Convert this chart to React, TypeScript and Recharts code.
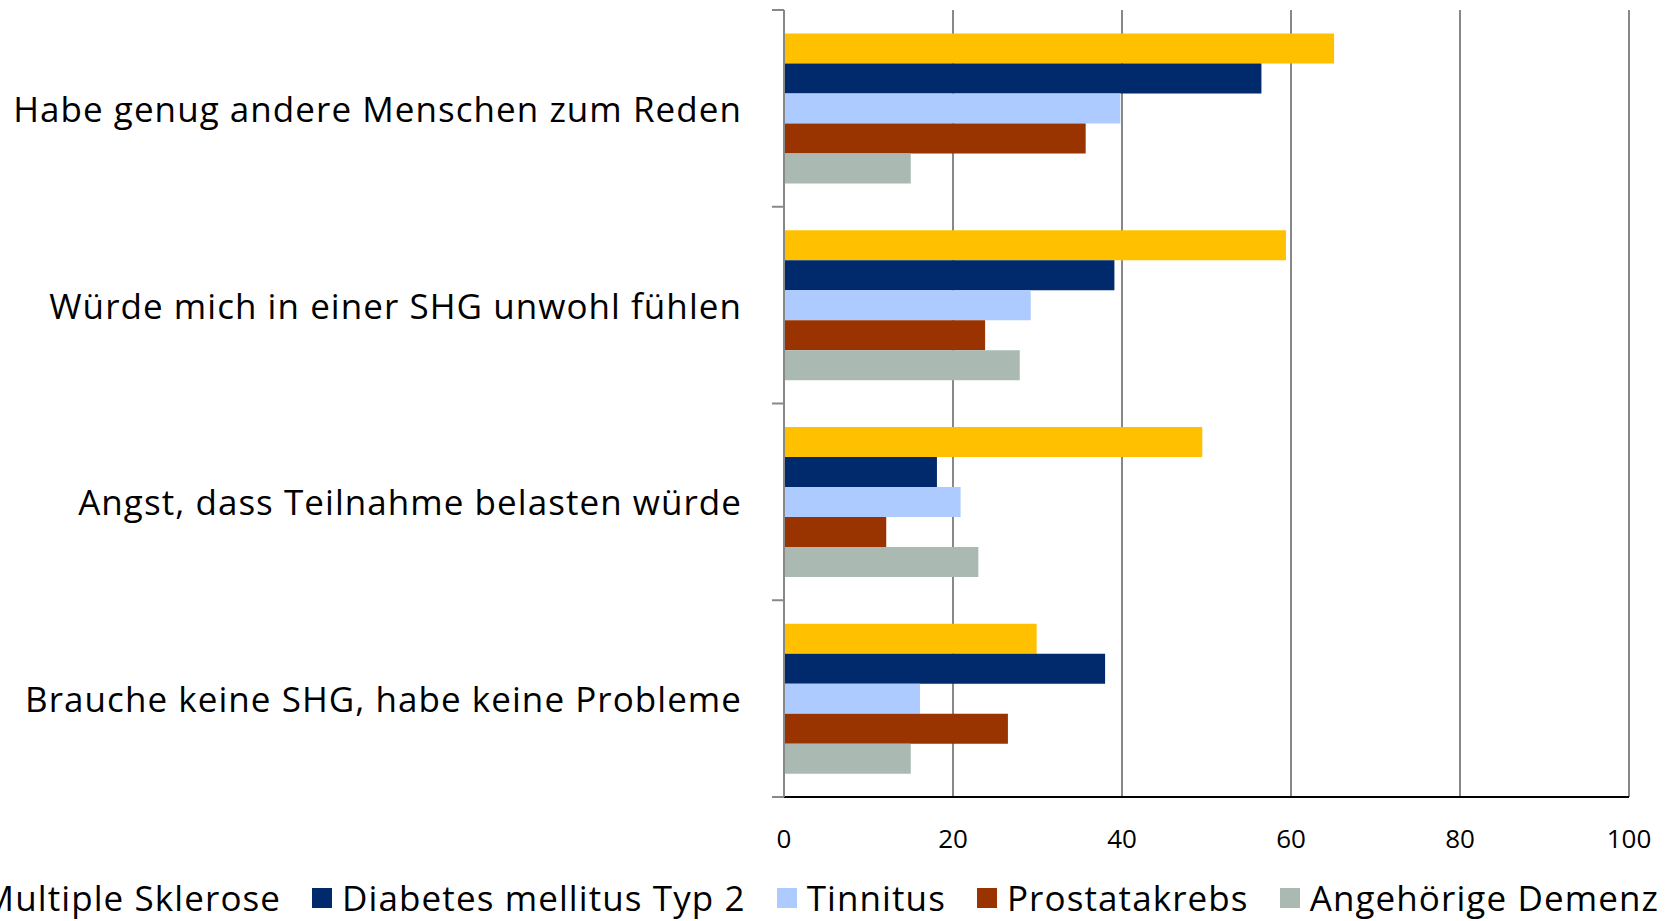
import React from "react";
import { BarChart, Bar, XAxis, YAxis, CartesianGrid, Legend } from "recharts";

const categories = [
  "Habe genug andere Menschen zum Reden",
  "Würde mich in einer SHG unwohl fühlen",
  "Angst, dass Teilnahme belasten würde",
  "Brauche keine SHG, habe keine Probleme",
];
const multipleSklerose = [65.1, 59.4, 49.5, 29.9];
const diabetes = [56.5, 39.1, 18.1, 38.0];
const tinnitus = [39.8, 29.2, 20.9, 16.1];
const prostatakrebs = [35.7, 23.8, 12.1, 26.5];
const demenz = [15.0, 27.9, 23.0, 15.0];
const xTicks = [0, 20, 40, 60, 80, 100];

const seriesNames = [
  "Multiple Sklerose",
  "Diabetes mellitus Typ 2",
  "Tinnitus",
  "Prostatakrebs",
  "Angehörige Demenz",
];
const seriesColors = ["#FFC000", "#002A6C", "#AECBFF", "#993300", "#AABAB3"];
const seriesValues = [multipleSklerose, diabetes, tinnitus, prostatakrebs, demenz];
const keys = ["s0", "s1", "s2", "s3", "s4"];

const data = categories.map((cat, i) => {
  const row: any = { cat };
  keys.forEach((k, j) => {
    row[k] = seriesValues[j][i];
  });
  return row;
});

const FONT = "'Open Sans', sans-serif";

const YTick = (props: any) => {
  const { x, y, payload, index, visibleTicksCount } = props;
  const off = payload && payload.offset ? payload.offset : 0;
  const last = visibleTicksCount ? visibleTicksCount - 1 : categories.length - 1;
  return (
    <g>
      <line x1={x - 12} x2={x} y1={y - off} y2={y - off} stroke="#888" strokeWidth={2} />
      {index === last && (
        <line x1={x - 12} x2={x} y1={y + off} y2={y + off} stroke="#888" strokeWidth={2} />
      )}
      <text
        x={x - 42}
        y={y}
        textAnchor="end"
        dominantBaseline="central"
        fontFamily={FONT}
        fontSize={35}
        letterSpacing={1.05}
        fill="#000"
      >
        {payload.value}
      </text>
    </g>
  );
};

const XTick = (props: any) => {
  const { x, y, payload } = props;
  return (
    <text
      x={x}
      y={y + 41}
      textAnchor="middle"
      dominantBaseline="central"
      fontFamily={FONT}
      fontSize={26}
      fill="#000"
    >
      {payload.value}
    </text>
  );
};

const LegendContent = () => {
  return (
    <div style={{ position: "relative", width: 1661, height: 64 }}>
      <div
        style={{
          position: "absolute",
          right: 2,
          top: 22,
          width: "max-content",
          display: "flex",
          alignItems: "center",
          whiteSpace: "nowrap",
          fontFamily: FONT,
          fontSize: 35,
          letterSpacing: 1.1,
          lineHeight: "38px",
          color: "#000",
        }}
      >
        {seriesNames.map((name, i) => (
          <div
            key={name}
            style={{ display: "flex", alignItems: "center", marginLeft: i === 0 ? 0 : 31, flexShrink: 0 }}
          >
            <div style={{ width: 20, height: 20, background: seriesColors[i], marginRight: 10, flexShrink: 0 }} />
            <span>{name}</span>
          </div>
        ))}
      </div>
    </div>
  );
};

export default function App() {
  return (
    <div style={{ position: "absolute", left: 0, top: 0, width: 1666, height: 921, background: "#fff", overflow: "hidden" }}>
      <BarChart
        width={1666}
        height={921}
        data={data}
        layout="vertical"
        margin={{ top: 10, right: 37, bottom: 0, left: 0 }}
        barCategoryGap="11.9%"
        barGap={0}
      >
        <CartesianGrid horizontal={false} vertical={true} stroke="#888" strokeWidth={2} />
        <XAxis
          type="number"
          domain={[0, 100]}
          ticks={xTicks}
          height={60}
          axisLine={{ stroke: "#000", strokeWidth: 2 }}
          tickLine={false}
          tickSize={0}
          tickMargin={0}
          tick={<XTick />}
          interval={0}
        />
        <XAxis
          xAxisId="top"
          orientation="top"
          type="number"
          domain={[0, 100]}
          height={0}
          axisLine={{ stroke: "#888", strokeWidth: 2 }}
          tick={false}
          tickLine={false}
        />
        <YAxis
          type="category"
          dataKey="cat"
          width={784}
          axisLine={{ stroke: "#888", strokeWidth: 2 }}
          tickLine={false}
          tickSize={0}
          tickMargin={0}
          tick={<YTick />}
          interval={0}
        />
        <YAxis
          yAxisId="right"
          orientation="right"
          type="category"
          dataKey="cat"
          width={0}
          axisLine={{ stroke: "#000", strokeWidth: 2 }}
          tick={false}
          tickLine={false}
        />
        <Legend verticalAlign="bottom" height={64} content={<LegendContent />} wrapperStyle={{ left: 0, width: 1661 }} />
        {keys.map((k, j) => (
          <Bar
            key={k}
            dataKey={k}
            name={seriesNames[j]}
            fill={seriesColors[j]}
            isAnimationActive={false}
          />
        ))}
      </BarChart>
    </div>
  );
}
